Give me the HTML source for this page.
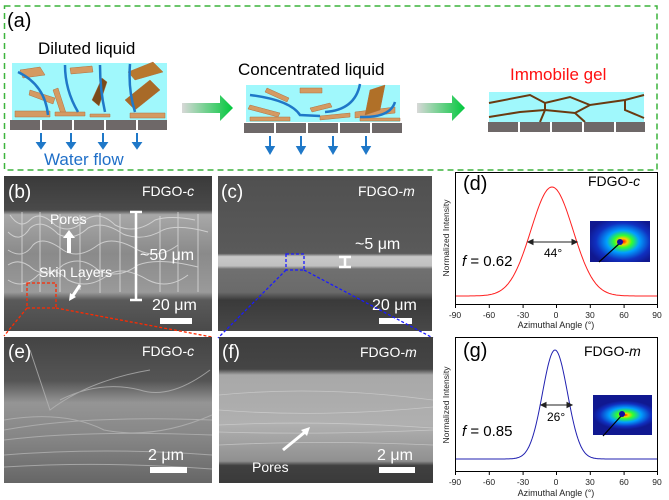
<!DOCTYPE html>
<html><head><meta charset="utf-8"><style>
html,body{margin:0;padding:0;background:#fff}
svg{display:block}
text{font-family:"Liberation Sans",Arial,sans-serif}
</style></head><body>
<svg width="669" height="500" viewBox="0 0 669 500" xmlns="http://www.w3.org/2000/svg">
<defs>
<linearGradient id="ga" x1="0" x2="1"><stop offset="0" stop-color="#d8d8d8"/><stop offset="1" stop-color="#00c83c"/></linearGradient>
<linearGradient id="sb" x1="0" y1="0" x2="0" y2="1"><stop offset="0" stop-color="#3a3a3a"/><stop offset="0.22" stop-color="#4a4a4a"/><stop offset="0.25" stop-color="#a8a8a8"/><stop offset="0.5" stop-color="#8a8a8a"/><stop offset="0.75" stop-color="#9a9a9a"/><stop offset="0.8" stop-color="#5a5a5a"/><stop offset="1" stop-color="#4a4a4a"/></linearGradient>
<linearGradient id="sc" x1="0" y1="0" x2="0" y2="1"><stop offset="0" stop-color="#505050"/><stop offset="0.5" stop-color="#5a5a5a"/><stop offset="0.52" stop-color="#c8c8c8"/><stop offset="0.58" stop-color="#c0c0c0"/><stop offset="0.6" stop-color="#707070"/><stop offset="0.75" stop-color="#6a6a6a"/><stop offset="0.8" stop-color="#3a3a3a"/><stop offset="1" stop-color="#484848"/></linearGradient>
<linearGradient id="se" x1="0" y1="0" x2="0" y2="1"><stop offset="0" stop-color="#444"/><stop offset="0.3" stop-color="#555"/><stop offset="0.45" stop-color="#959595"/><stop offset="0.7" stop-color="#858585"/><stop offset="1" stop-color="#666"/></linearGradient>
<linearGradient id="sf" x1="0" y1="0" x2="0" y2="1"><stop offset="0" stop-color="#3e3e3e"/><stop offset="0.22" stop-color="#454545"/><stop offset="0.26" stop-color="#a8a8a8"/><stop offset="0.6" stop-color="#b0b0b0"/><stop offset="0.85" stop-color="#909090"/><stop offset="0.88" stop-color="#404040"/><stop offset="1" stop-color="#3a3a3a"/></linearGradient>
<radialGradient id="xr" cx="0.55" cy="0.5" r="0.6"><stop offset="0" stop-color="#ff0000"/><stop offset="0.12" stop-color="#ffd000"/><stop offset="0.25" stop-color="#30ff30"/><stop offset="0.45" stop-color="#00a0ff"/><stop offset="0.75" stop-color="#1030c0"/><stop offset="1" stop-color="#101890"/></radialGradient>
<radialGradient id="xr2" cx="0.55" cy="0.5" r="0.6" gradientTransform="translate(0.05 0.2) scale(0.9 0.6)"><stop offset="0" stop-color="#ff0000"/><stop offset="0.1" stop-color="#ffd000"/><stop offset="0.25" stop-color="#30ff30"/><stop offset="0.5" stop-color="#00a0ff"/><stop offset="0.8" stop-color="#1030c0"/><stop offset="1" stop-color="#101890"/></radialGradient>
</defs>

<rect x="4.5" y="6" width="652.5" height="164" fill="none" stroke="#3cb43c" stroke-width="1.5" stroke-dasharray="6,4"/>
<text x="7" y="27" font-size="20">(a)</text>
<text x="38" y="54" font-size="17">Diluted liquid</text>
<rect x="12" y="63" width="155" height="57" fill="#a0f8fc"/>
<g fill="#d49a62" stroke="#b07040" stroke-width="0.5">
<path d="M20 70 l20 -3 l5 8 l-22 3z"/><path d="M30 90 l25 8 l-2 6 l-24 -9z"/><path d="M70 68 l22 -2 l1 6 l-22 2z"/><path d="M58 88 l8 25 l-5 1 l-8 -24z"/>
<path d="M15 111 l35 0 l0 6 l-35 0z"/><path d="M55 112 l30 0 l0 4 l-30 0z"/><path d="M90 114 l20 0 l0 3 l-20 0z"/><path d="M130 113 l35 0 l0 5 l-35 0z"/>
<path d="M128 72 l25 -10 l10 10 l-28 8z" fill="#b8782e"/><path d="M125 100 l25 -20 l10 10 l-25 20z" fill="#a86a28"/><path d="M92 100 l10 -22 l5 4 l-8 24z" fill="#7a4a18"/>
</g>
<g fill="none" stroke="#1f78c8" stroke-width="2.5"><path d="M18 72 Q45 85 48 115"/><path d="M65 65 Q65 90 78 112"/><path d="M100 65 Q100 90 105 112"/><path d="M130 64 Q128 90 135 112"/></g>
<g fill="#6e6868"><rect x="10" y="120" width="30" height="10"/><rect x="42" y="120" width="30" height="10"/><rect x="74" y="120" width="30" height="10"/><rect x="106" y="120" width="30" height="10"/><rect x="138" y="120" width="29" height="10"/></g>
<g stroke="#1f78c8" stroke-width="2" fill="#1f78c8">
<line x1="41" y1="133" x2="41" y2="144"/><path d="M37.5 143 l3.5 5 l3.5 -5z"/>
<line x1="71" y1="133" x2="71" y2="144"/><path d="M67.5 143 l3.5 5 l3.5 -5z"/>
<line x1="103" y1="133" x2="103" y2="144"/><path d="M99.5 143 l3.5 5 l3.5 -5z"/>
<line x1="137" y1="133" x2="137" y2="144"/><path d="M133.5 143 l3.5 5 l3.5 -5z"/>
</g>
<text x="44" y="165" font-size="17" fill="#1f6fc8">Water flow</text>
<path d="M182 103 h38 v-8 l13 13 l-13 13 v-8 h-38z" fill="url(#ga)"/>

<text x="238" y="75" font-size="17">Concentrated liquid</text>
<rect x="246" y="85" width="154" height="37" fill="#a0f8fc"/>
<g fill="#d49a62" stroke="#b07040" stroke-width="0.5">
<path d="M267 88 l22 10 l-2 4 l-22 -10z"/><path d="M300 88 l22 0 l0 5 l-22 0z"/><path d="M250 105 l30 8 l-2 4 l-30 -8z"/><path d="M310 108 l20 -5 l2 4 l-20 5z"/>
<path d="M250 117 l40 0 l0 4 l-40 0z"/><path d="M320 116 l30 -3 l0 4 l-30 3z"/><path d="M355 112 l40 -5 l0 6 l-40 5z"/><path d="M360 118 l40 0 l0 3 l-40 0z"/>
<path d="M370 90 l15 -5 l-5 25 l-15 5z" fill="#b07028"/>
</g>
<g fill="none" stroke="#1f78c8" stroke-width="2.5"><path d="M250 95 Q290 100 300 115 L320 116"/><path d="M360 84 Q355 110 325 112"/><path d="M395 102 Q390 118 360 117"/></g>
<g fill="#6e6868"><rect x="244" y="123" width="30" height="10"/><rect x="276" y="123" width="30" height="10"/><rect x="308" y="123" width="30" height="10"/><rect x="340" y="123" width="30" height="10"/><rect x="372" y="123" width="30" height="10"/></g>
<g stroke="#1f78c8" stroke-width="2" fill="#1f78c8">
<line x1="270" y1="136" x2="270" y2="148"/><path d="M266.5 147 l3.5 6 l3.5 -6z"/>
<line x1="301" y1="136" x2="301" y2="148"/><path d="M297.5 147 l3.5 6 l3.5 -6z"/>
<line x1="333" y1="136" x2="333" y2="148"/><path d="M329.5 147 l3.5 6 l3.5 -6z"/>
<line x1="366" y1="136" x2="366" y2="148"/><path d="M362.5 147 l3.5 6 l3.5 -6z"/>
</g>
<path d="M417 103 h35 v-8 l13 13 l-13 13 v-8 h-35z" fill="url(#ga)"/>

<text x="510" y="80" font-size="17" fill="#ff1010">Immobile gel</text>
<rect x="489" y="92" width="155" height="30" fill="#a0f8fc"/>
<g fill="none" stroke="#6a3a10" stroke-width="2">
<path d="M489 103 L530 95 L545 103 L570 97 L590 105 L625 100 L644 95"/>
<path d="M489 117 L520 112 L545 110 L575 113 L590 105"/><path d="M545 103 L545 110 L540 122"/><path d="M575 113 L585 122"/><path d="M625 100 L625 110 L644 118"/>
</g>
<g fill="#6e6868"><rect x="488" y="122" width="30" height="10"/><rect x="520" y="122" width="30" height="10"/><rect x="552" y="122" width="30" height="10"/><rect x="584" y="122" width="30" height="10"/><rect x="616" y="122" width="29" height="10"/></g>

<rect x="4" y="176" width="208" height="155" fill="url(#sb)"/>
<g stroke="#e0e0e0" stroke-width="1" fill="none" opacity="0.75">
<path d="M10 215 q10 15 20 5 q10 -10 25 5 q15 10 30 -5 q15 -10 30 5 q20 10 40 -5 q15 -5 40 0"/>
<path d="M8 232 q12 12 22 -4 q12 -10 28 6 q15 8 30 -6 q15 -8 35 6 q20 8 40 -4 q15 -6 45 2"/>
<path d="M8 250 q15 10 25 -5 q10 -10 30 5 q15 10 35 -5 q15 -10 40 5 q20 10 40 -5"/>
<path d="M8 265 q12 -8 25 4 q15 10 30 -4 q18 -10 35 5 q20 10 40 -5 q20 -8 60 2"/>
<path d="M8 280 q15 10 30 -5 q15 -10 30 5 q20 10 40 -5 q15 -10 40 5 q20 10 40 -5"/>
<path d="M22 212 v80 M40 212 v80 M60 214 v78 M80 215 v75 M100 213 v80 M120 214 v78 M160 216 v76 M178 212 v80 M198 214 v78"/>
</g>
<text x="8" y="198" font-size="19" fill="#fff">(b)</text>
<text x="142" y="196" font-size="14" fill="#fff">FDGO-<tspan font-style="italic">c</tspan></text>
<text x="50" y="224" font-size="14" fill="#fff">Pores</text>
<path d="M67 253 v-15 h-4 l6 -8 l6 8 h-4 v15z" fill="#fff"/>
<text x="39" y="277" font-size="14" fill="#fff">Skin Layers</text>
<path d="M80 285 l-8 12" stroke="#fff" stroke-width="3"/><path d="M69 301 l1 -8 l6 4z" fill="#fff"/>
<g stroke="#fff" stroke-width="2.5"><line x1="136" y1="212" x2="136" y2="300"/><line x1="130" y1="212" x2="142" y2="212"/><line x1="130" y1="300" x2="142" y2="300"/></g>
<text x="140" y="260" font-size="16" fill="#fff">~50 μm</text>
<text x="152" y="310" font-size="16" fill="#fff">20 μm</text>
<rect x="160" y="318" width="32" height="6" fill="#fff"/>
<rect x="27" y="283" width="29" height="25" fill="none" stroke="#ff2a00" stroke-width="1.3" stroke-dasharray="3,2"/>
<g stroke="#ff2a00" stroke-width="1.3" stroke-dasharray="3,2"><line x1="27" y1="308" x2="4" y2="336"/><line x1="56" y1="308" x2="212" y2="337"/></g>

<rect x="218" y="176" width="214" height="155" fill="url(#sc)"/>
<text x="221" y="198" font-size="19" fill="#fff">(c)</text>
<text x="358" y="196" font-size="14" fill="#fff">FDGO-<tspan font-style="italic">m</tspan></text>
<text x="355" y="249" font-size="16" fill="#fff">~5 μm</text>
<g stroke="#fff" stroke-width="2.5"><line x1="345" y1="257" x2="345" y2="267"/><line x1="339" y1="257" x2="351" y2="257"/><line x1="339" y1="267" x2="351" y2="267"/></g>
<text x="372" y="310" font-size="16" fill="#fff">20 μm</text>
<rect x="379" y="318" width="33" height="6" fill="#fff"/>
<rect x="286" y="254" width="18" height="16" fill="none" stroke="#1a1aff" stroke-width="1.3" stroke-dasharray="3,2"/>
<g stroke="#1a1aff" stroke-width="1.3" stroke-dasharray="3,2"><line x1="286" y1="270" x2="218" y2="338"/><line x1="304" y1="270" x2="433" y2="338"/></g>

<rect x="4" y="337" width="208" height="146" fill="url(#se)"/>
<g stroke="#b5b5b5" stroke-width="1" fill="none" opacity="0.75">
<path d="M30 350 q10 30 20 60 q40 -30 100 -40 M60 400 q40 -20 80 -10 q30 10 70 -20 M4 420 q60 -10 100 10 q50 10 108 -15 M4 430 q80 -15 208 -10 M4 440 q80 -10 208 -5 M4 455 q100 -8 208 0 M4 467 q100 -6 208 2"/>
</g>
<text x="8" y="358" font-size="19" fill="#fff">(e)</text>
<text x="142" y="356" font-size="14" fill="#fff">FDGO-<tspan font-style="italic">c</tspan></text>
<text x="148" y="460" font-size="16" fill="#fff">2 μm</text>
<rect x="150" y="467" width="37" height="6" fill="#fff"/>

<rect x="219" y="337" width="214" height="146" fill="url(#sf)"/>
<g stroke="#d8d8d8" stroke-width="0.8" fill="none" opacity="0.6">
<path d="M219 395 q100 -10 214 5 M219 410 q100 8 214 -3 M219 425 q100 -5 214 3 M219 432 q100 3 214 -2 M219 445 q100 -5 214 0"/>
</g>
<text x="222" y="358" font-size="19" fill="#fff">(f)</text>
<text x="360" y="357" font-size="14" fill="#fff">FDGO-<tspan font-style="italic">m</tspan></text>
<path d="M283 450 l22 -18" stroke="#fff" stroke-width="3"/><path d="M310 427 l-3 9 l-6 -6z" fill="#fff"/>
<text x="252" y="472" font-size="14" fill="#fff">Pores</text>
<text x="377" y="460" font-size="16" fill="#fff">2 μm</text>
<rect x="379" y="467" width="36" height="6" fill="#fff"/>

<rect x="455.5" y="172.5" width="202" height="132" fill="none" stroke="#000" stroke-width="1"/>
<g stroke="#000" stroke-width="1">
<line x1="455.5" y1="305" x2="455.5" y2="308"/><line x1="489.3" y1="305" x2="489.3" y2="308"/><line x1="523.1" y1="305" x2="523.1" y2="308"/><line x1="556.5" y1="305" x2="556.5" y2="308"/><line x1="590.3" y1="305" x2="590.3" y2="308"/><line x1="624.1" y1="305" x2="624.1" y2="308"/><line x1="657.5" y1="305" x2="657.5" y2="308"/>
</g>
<g font-size="8.5" fill="#222" text-anchor="middle"><text x="455" y="318">-90</text><text x="489" y="318">-60</text><text x="523" y="318">-30</text><text x="556" y="318">0</text><text x="590" y="318">30</text><text x="624" y="318">60</text><text x="657" y="318">90</text></g>
<text x="556" y="328" font-size="9" fill="#222" text-anchor="middle">Azimuthal Angle (°)</text>
<text transform="translate(449 238) rotate(-90)" font-size="8.5" fill="#222" text-anchor="middle">Normalized Intensity</text>
<path id="pd" fill="none" stroke="#ff2020" stroke-width="1" d=""/>
<text x="463" y="190" font-size="20">(d)</text>
<text x="588" y="186" font-size="14">FDGO-<tspan font-style="italic">c</tspan></text>
<text x="462" y="266" font-size="15"><tspan font-style="italic">f</tspan> = 0.62</text>
<g stroke="#222" stroke-width="1" fill="#222"><line x1="529" y1="242" x2="576" y2="242"/><path d="M528 242 l5 -2.5 v5z"/><path d="M577 242 l-5 -2.5 v5z"/></g>
<text x="544" y="257" font-size="12">44°</text>
<rect x="590" y="221" width="60" height="41" fill="url(#xr)"/>
<line x1="599" y1="262" x2="620" y2="243" stroke="#000" stroke-width="1.2"/><circle cx="620" cy="242" r="3" fill="#1010a0"/>

<rect x="455.5" y="337.5" width="202" height="134" fill="none" stroke="#000" stroke-width="1"/>
<g stroke="#000" stroke-width="1">
<line x1="455.5" y1="472" x2="455.5" y2="475"/><line x1="489.3" y1="472" x2="489.3" y2="475"/><line x1="523.1" y1="472" x2="523.1" y2="475"/><line x1="556.5" y1="472" x2="556.5" y2="475"/><line x1="590.3" y1="472" x2="590.3" y2="475"/><line x1="624.1" y1="472" x2="624.1" y2="475"/><line x1="657.5" y1="472" x2="657.5" y2="475"/>
</g>
<g font-size="8.5" fill="#222" text-anchor="middle"><text x="455" y="485">-90</text><text x="489" y="485">-60</text><text x="523" y="485">-30</text><text x="556" y="485">0</text><text x="590" y="485">30</text><text x="624" y="485">60</text><text x="657" y="485">90</text></g>
<text x="556" y="496" font-size="9" fill="#222" text-anchor="middle">Azimuthal Angle (°)</text>
<text transform="translate(449 405) rotate(-90)" font-size="8.5" fill="#222" text-anchor="middle">Normalized Intensity</text>
<path id="pg" fill="none" stroke="#2020b0" stroke-width="1" d=""/>
<text x="463" y="357" font-size="20">(g)</text>
<text x="584" y="356" font-size="14">FDGO-<tspan font-style="italic">m</tspan></text>
<text x="462" y="436" font-size="15"><tspan font-style="italic">f</tspan> = 0.85</text>
<g stroke="#222" stroke-width="1" fill="#222"><line x1="543" y1="405" x2="570" y2="405"/><path d="M541 405 l5 -2.5 v5z"/><path d="M572 405 l-5 -2.5 v5z"/></g>
<text x="547" y="421" font-size="12">26°</text>
<rect x="593" y="395" width="59" height="40" fill="url(#xr2)"/>
<line x1="603" y1="436" x2="622" y2="415" stroke="#000" stroke-width="1.2"/><circle cx="622" cy="414" r="3" fill="#1010a0"/>

<script>
function g(id,c,s,base,peak){var d="";for(var x=456;x<=657;x+=1){var t=(x-c)/s;var y=base-(base-peak)*Math.exp(-t*t/2);d+=(x==456?"M":"L")+x+" "+y.toFixed(1);}document.getElementById(id).setAttribute("d",d);}
g("pd",552,21,296,187);g("pg",555,12.5,459,350);
</script>
</svg>
</body></html>
